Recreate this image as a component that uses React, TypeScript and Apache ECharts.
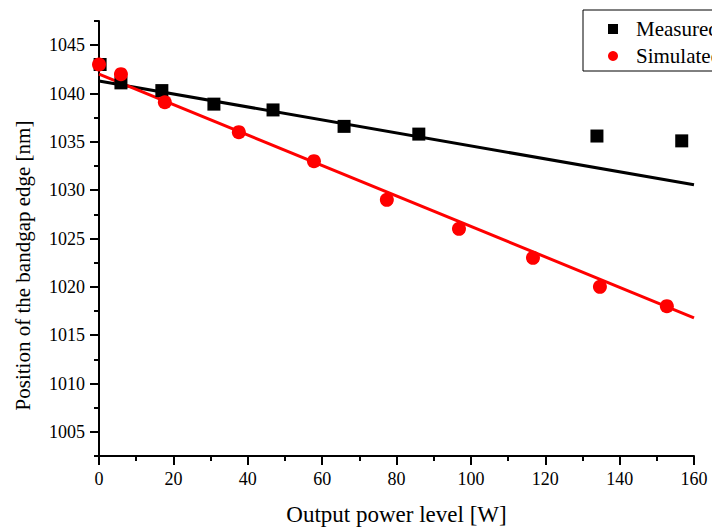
import React, { useEffect, useRef } from "react";
import * as echarts from "echarts";

const measuredX = [0.3, 5.9, 16.9, 30.9, 46.8, 65.9, 86.0, 133.9, 156.7];
const measuredY = [1043.0, 1041.1, 1040.3, 1038.9, 1038.3, 1036.6, 1035.8, 1035.6, 1035.1];
const simulatedX = [0.0, 5.9, 17.7, 37.6, 57.8, 77.4, 96.8, 116.7, 134.7, 152.7];
const simulatedY = [1043.0, 1042.0, 1039.1, 1036.0, 1033.0, 1029.0, 1026.0, 1023.0, 1020.0, 1018.0];
const fitMeasuredX = [0, 160];
const fitMeasuredY = [1041.3, 1030.55];
const fitSimulatedX = [0, 160];
const fitSimulatedY = [1042.0, 1016.8];
const yMajorTicks = [1005, 1010, 1015, 1020, 1025, 1030, 1035, 1040, 1045];
const yMinorTicks = [1002.5, 1007.5, 1012.5, 1017.5, 1022.5, 1027.5, 1032.5, 1037.5, 1042.5, 1047.5];
const seriesNames = ["Measured", "Simulated"];

const FONT = "Liberation Serif";

export default function App() {
  const ref = useRef<HTMLDivElement>(null);
  useEffect(() => {
    if (!ref.current) return;
    const chart = echarts.init(ref.current, undefined, { renderer: "svg" });
    const pairs = (xs: number[], ys: number[]) => xs.map((x, i) => [x, ys[i]]);
    chart.setOption({
      animation: false,
      backgroundColor: "#fff",
      grid: { left: 99, top: 21, width: 595, height: 438, containLabel: false },
      legend: {
        data: [
          { name: seriesNames[0], icon: "rect" },
          { name: seriesNames[1], icon: "circle" },
        ],
        orient: "vertical",
        left: 583,
        top: 10,
        padding: [8.5, 10, 4.5, 25],
        itemGap: 6,
        itemWidth: 10,
        itemHeight: 10,
        borderColor: "#000",
        borderWidth: 1,
        borderRadius: 0,
        textStyle: {
          fontFamily: FONT,
          fontSize: 21,
          color: "#000",
          lineHeight: 21,
          padding: [0, 0, 0, 13],
        },
      },
      xAxis: [
        {
          type: "value",
          min: 0,
          max: 160,
          interval: 20,
          name: "Output power level [W]",
          nameLocation: "middle",
          nameGap: 47,
          nameTextStyle: { fontFamily: FONT, fontSize: 23, color: "#000" },
          axisLine: { show: true, onZero: false, lineStyle: { color: "#000", width: 2 } },
          axisTick: { show: true, inside: false, length: 9, lineStyle: { color: "#000", width: 2 } },
          minorTick: { show: true, splitNumber: 2, length: 5, lineStyle: { color: "#000", width: 2 } },
          axisLabel: { fontFamily: FONT, fontSize: 18, color: "#000", margin: 14 },
          splitLine: { show: false },
        },
      ],
      yAxis: [
        {
          type: "value",
          min: 1002.5,
          max: 1047.5,
          position: "left",
          name: "Position of the bandgap edge [nm]",
          nameLocation: "middle",
          nameGap: 66,
          nameTextStyle: { fontFamily: FONT, fontSize: 21, color: "#000", padding: [0, 54, 0, 0] },
          axisLine: { show: true, onZero: false, lineStyle: { color: "#000", width: 2 } },
          axisTick: {
            show: true,
            inside: false,
            length: 9,
            customValues: yMajorTicks,
            lineStyle: { color: "#000", width: 2 },
          },
          axisLabel: {
            fontFamily: FONT,
            fontSize: 18,
            color: "#000",
            margin: 14,
            customValues: yMajorTicks,
            formatter: (v: number) => String(v),
          },
          splitLine: { show: false },
        },
        {
          type: "value",
          min: 1002.5,
          max: 1047.5,
          position: "left",
          axisLine: { show: false },
          axisTick: {
            show: true,
            inside: false,
            length: 5,
            customValues: yMinorTicks,
            lineStyle: { color: "#000", width: 2 },
          },
          axisLabel: { show: false, customValues: yMinorTicks },
          splitLine: { show: false },
        },
      ],
      series: [
        {
          name: "fitMeasured",
          type: "line",
          data: pairs(fitMeasuredX, fitMeasuredY),
          showSymbol: false,
          lineStyle: { color: "#000", width: 3 },
          z: 2,
        },
        {
          name: "fitSimulated",
          type: "line",
          data: pairs(fitSimulatedX, fitSimulatedY),
          showSymbol: false,
          lineStyle: { color: "#ff0000", width: 3 },
          z: 2,
        },
        {
          name: seriesNames[0],
          type: "scatter",
          data: pairs(measuredX, measuredY),
          symbol: "rect",
          symbolSize: 13,
          itemStyle: { color: "#000", opacity: 1 },
          z: 3,
        },
        {
          name: seriesNames[1],
          type: "scatter",
          data: pairs(simulatedX, simulatedY),
          symbol: "circle",
          symbolSize: 14,
          itemStyle: { color: "#ff0000", opacity: 1 },
          z: 4,
        },
      ],
    });
    return () => chart.dispose();
  }, []);
  return (
    <div
      ref={ref}
      style={{ position: "fixed", left: 0, top: 0, width: 760, height: 531, background: "#fff" }}
    />
  );
}
